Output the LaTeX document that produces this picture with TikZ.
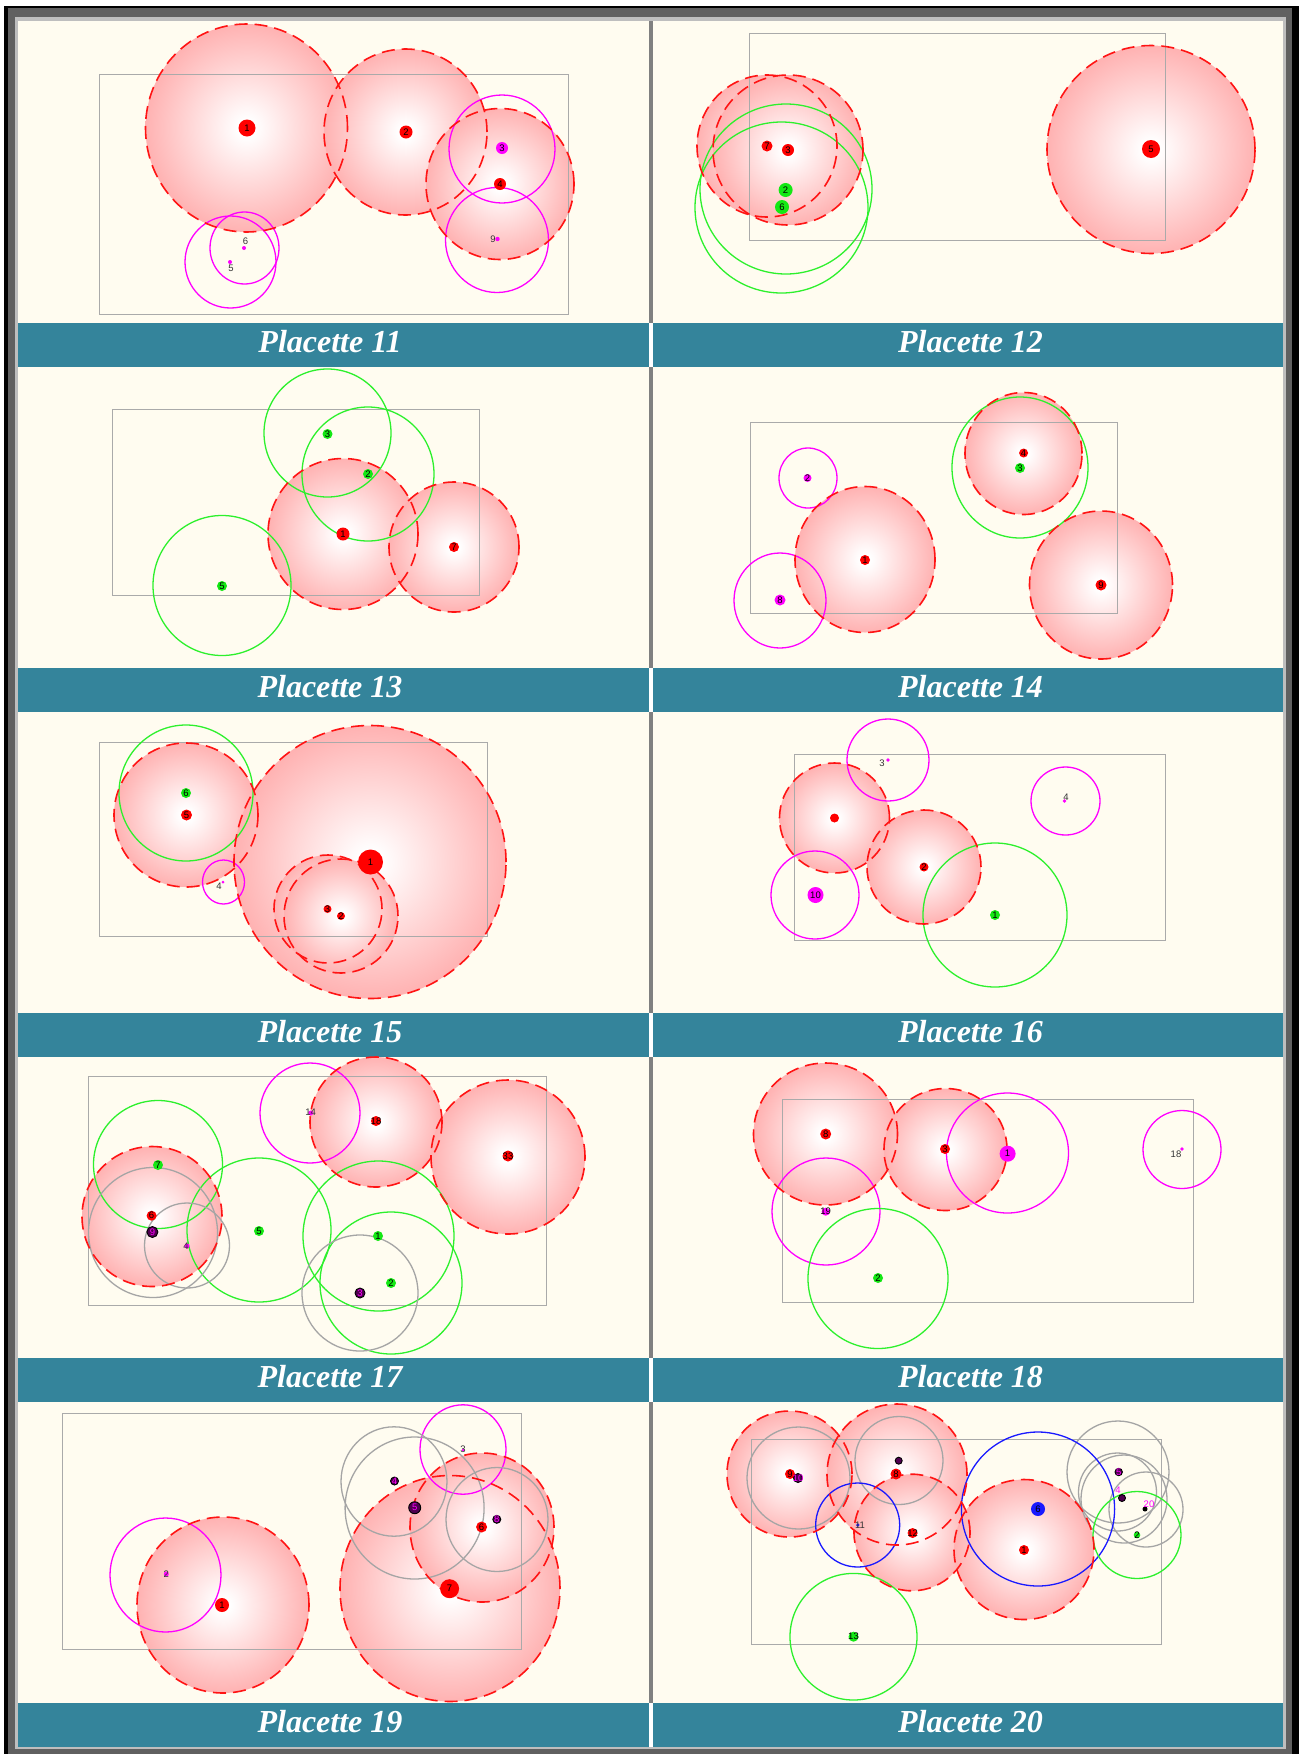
\documentclass[tikz,border=0pt]{standalone}
\usepackage{fontspec}
\setmainfont{Liberation Serif}
\setsansfont{Liberation Sans}
\definecolor{pinkedge}{RGB}{255,178,178}
\definecolor{cream}{RGB}{255,252,240}
\definecolor{tealbar}{RGB}{52,132,155}
\definecolor{framedark}{RGB}{96,96,96}
\definecolor{framelight}{RGB}{190,190,190}
\definecolor{divgray}{RGB}{128,128,128}
\definecolor{plotgray}{RGB}{170,170,170}
\definecolor{ringgray}{RGB}{165,165,165}
\definecolor{lime}{RGB}{45,240,45}
\definecolor{limedot}{RGB}{20,232,20}
\definecolor{mag}{RGB}{255,0,255}
\definecolor{blu}{RGB}{25,25,255}
\definecolor{dred}{RGB}{255,20,20}
\definecolor{darkpurple}{RGB}{80,0,80}
\pgfdeclareradialshading{pinkball}{\pgfpointorigin}{color(0bp)=(white); color(2bp)=(white); color(25bp)=(pinkedge); color(50bp)=(pinkedge)}
\tikzset{
  redline/.style={draw=dred, line width=1.6pt, dash pattern=on 13pt off 7pt},
  magring/.style={draw=mag, line width=1.3pt},
  greenring/.style={draw=lime, line width=1.3pt},
  grayring/.style={draw=ringgray, line width=1.3pt},
  bluering/.style={draw=blu, line width=1.3pt},
  plotbox/.style={draw=plotgray, line width=1pt},
  dotbase/.style={circle, inner sep=0pt, font=\sffamily\fontsize{9.5}{9.5}\selectfont},
  rdot/.style={dotbase, fill=red},
  gdot/.style={dotbase, fill=limedot},
  mdot/.style={dotbase, fill=mag},
  bdot/.style={dotbase, fill=blu},
  kdot/.style={dotbase, fill=darkpurple, draw=black, line width=0.9pt, text=mag},
  blackdot/.style={dotbase, fill=black},
  lbl/.style={inner sep=0pt, font=\sffamily\fontsize{9.5}{9.5}\selectfont, text=black!80},
  maglbl/.style={lbl, text=mag},
  titletext/.style={anchor=base, inner sep=0pt, text=white, font=\rmfamily\bfseries\itshape\fontsize{32}{32}\selectfont},
}
\newcommand\dg[1]{\makebox[0pt]{#1}}
\newcommand\RF[4]{\shade[shading=pinkball] (#1,#2) ellipse [x radius=#3pt, y radius=#4pt];}
\newcommand\RL[4]{\draw[redline] (#1,#2) ellipse [x radius=#3pt, y radius=#4pt];}
\newcommand\RG[5]{\draw[#1] (#2,#3) ellipse [x radius=#4pt, y radius=#5pt];}
\newcommand\DT[6]{\node[#1, minimum size=#5pt*2] (#2) at (#3,#4) {\dg{#6}};}
\begin{document}
\begin{tikzpicture}[x=1pt,y=-1pt]
\useasboundingbox (0,0) rectangle (1302,1754);
% frame
\fill[white] (0,0) rectangle (1302,1754);
\fill[black] (4,6) rectangle (1299,1754);
\fill[framedark] (7.6,8.3) rectangle (1292,1754);
\fill[framelight] (14.7,16.7) rectangle (1285.8,1749);
\foreach \k in {0,...,4}{
  \pgfmathsetmacro\o{345*\k}
  \fill[cream] (17.7,21+\o) rectangle (648.5,323+\o);
  \fill[cream] (653,21+\o) rectangle (1282.5,323+\o);
  \fill[divgray] (648.5,21+\o) rectangle (653,323+\o);
}
\foreach \k in {0,...,4}{
  \pgfmathsetmacro\o{345*\k}
  \fill[tealbar] (17.7,323+\o) rectangle (648.5,367+\o);
  \fill[tealbar] (653,323+\o) rectangle (1282.5,367+\o);
  \fill[white] (648.5,323+\o) rectangle (653,367+\o);
}
% titles
\node[titletext] (t11) at (330,352.5) {Placette 11};
\node[titletext] (t12) at (970.5,352.5) {Placette 12};
\node[titletext] (t13) at (330,697.5) {Placette 13};
\node[titletext] (t14) at (970.5,697.5) {Placette 14};
\node[titletext] (t15) at (330,1042.5) {Placette 15};
\node[titletext] (t16) at (970.5,1042.5) {Placette 16};
\node[titletext] (t17) at (330,1387.5) {Placette 17};
\node[titletext] (t18) at (970.5,1387.5) {Placette 18};
\node[titletext] (t19) at (330,1732.5) {Placette 19};
\node[titletext] (t20) at (970.5,1732.5) {Placette 20};

% ---------- Placette 11
\RF{246.5}{128}{101}{104} \RF{405.5}{132}{81.5}{83} \RF{500}{184}{74}{75.5}
\draw[plotbox] (99,74) rectangle (568,314);
\RG{magring}{502}{149}{53}{54} \RG{magring}{497}{240}{51.5}{52.5}
\RG{magring}{244.5}{248}{34.5}{36} \RG{magring}{230.5}{262}{45.5}{46}
\RL{246.5}{128}{101}{104} \RL{405.5}{132}{81.5}{83} \RL{500}{184}{74}{75.5}
\DT{rdot}{a1}{247}{128}{8.5}{1} \DT{rdot}{a2}{406}{132}{6.5}{2}
\DT{rdot}{a4}{500}{184}{6}{4} \DT{mdot}{a3}{502}{148}{6}{3}
\DT{mdot}{a9}{497.5}{239}{2.2}{} \node[lbl] (a9t) at (493,239) {9};
\DT{mdot}{a6}{244}{248}{2}{} \node[lbl] (a6t) at (245.5,241.5) {6};
\DT{mdot}{a5}{230}{262}{2}{} \node[lbl] (a5t) at (231,268.5) {5};

% ---------- Placette 12
\RF{767}{146}{70}{71} \RF{788}{150}{75}{75} \RF{1151}{149.5}{104}{104}
\draw[plotbox] (749,33) rectangle (1165,240);
\RG{greenring}{786}{189}{86}{85} \RG{greenring}{781.5}{207.5}{86.5}{85.5}
\RL{767}{146}{70}{71} \RL{788}{150}{75}{75} \RL{1151}{149.5}{104}{104}
\DT{rdot}{b7}{767}{146}{5.5}{7} \DT{rdot}{b3}{788}{150}{6}{3}
\DT{rdot}{b5}{1151}{149}{9}{5} \DT{gdot}{b2}{785.6}{190}{7}{2}
\DT{gdot}{b6}{782}{207}{7}{6}

% ---------- Placette 13
\RF{343}{534}{75}{75.5} \RF{454}{547}{65}{65}
\draw[plotbox] (112,409) rectangle (479,595);
\RG{greenring}{327.5}{433}{63.5}{64} \RG{greenring}{368}{474}{66}{67}
\RG{greenring}{222}{585.5}{69}{70}
\RL{343}{534}{75}{75.5} \RL{454}{547}{65}{65}
\DT{gdot}{c3}{327.5}{434}{5}{3} \DT{gdot}{c2}{368}{474}{5}{2}
\DT{rdot}{c1}{343}{534}{6.5}{1} \DT{rdot}{c7}{454}{547}{5}{7}
\DT{gdot}{c5}{222}{586}{5}{5}

% ---------- Placette 14
\RF{865}{559.5}{70}{73} \RF{1023.5}{453.5}{58.5}{61} \RF{1101}{585}{71.5}{74}
\draw[plotbox] (750.5,422) rectangle (1117,613);
\RG{magring}{808}{478}{29}{30} \RG{magring}{780}{600.5}{46}{47.5}
\RG{greenring}{1020}{467.5}{68}{70.5}
\RL{865}{559.5}{70}{73} \RL{1023.5}{453.5}{58.5}{61} \RL{1101}{585}{71.5}{74}
\DT{mdot}{d2}{807.5}{478}{4}{2} \DT{rdot}{d1}{865}{560}{5}{1}
\DT{mdot}{d8}{780}{600}{5.5}{8} \DT{rdot}{d4}{1023.6}{453}{4.5}{4}
\DT{gdot}{d3}{1020}{468}{5}{3} \DT{rdot}{d9}{1101}{585}{5.5}{9}

% ---------- Placette 15
\RF{186}{815}{72}{72} \RF{370}{862}{136}{136.5} \RF{328}{909}{54}{54} \RF{341}{916}{57}{57}
\draw[plotbox] (99,742) rectangle (487,936);
\RG{greenring}{186}{793}{67}{68} \RG{magring}{223.5}{882}{21}{22}
\RL{186}{815}{72}{72} \RL{370}{862}{136}{136.5} \RL{328}{909}{54}{54} \RL{341}{916}{57}{57}
\DT{gdot}{e6}{186}{793}{5}{6} \DT{rdot}{e5}{186.5}{815}{5.5}{5}
\DT{rdot}{e1}{370.5}{862}{12.5}{1} \DT{rdot}{e3}{327.5}{909}{4}{3}
\DT{rdot}{e2}{341}{916}{4}{2}
\DT{mdot}{e4}{223}{882}{1.5}{} \node[lbl] (e4t) at (219,886) {4};

% ---------- Placette 16
\RF{834.5}{818}{55}{55} \RF{924}{867}{57}{57}
\draw[plotbox] (794,754) rectangle (1165,940);
\RG{magring}{888}{760}{41}{41} \RG{magring}{815}{895}{44}{44} \RG{magring}{1065.5}{801}{34.5}{34}
\RG{greenring}{995}{915}{72}{72}
\RL{834.5}{818}{55}{55} \RL{924}{867}{57}{57}
\DT{rdot}{f6}{834.5}{818}{4.5}{} \DT{rdot}{f2}{924}{867}{4.5}{2}
\DT{mdot}{f10}{815.5}{895}{8}{10} \DT{gdot}{f1}{995}{915}{5}{1}
\DT{mdot}{f3}{888}{760}{1.8}{} \node[lbl] (f3t) at (882,763) {3};
\DT{mdot}{f4}{1064.5}{801}{1.8}{} \node[lbl] (f4t) at (1066,797) {4};

% ---------- Placette 17
\RF{376}{1122}{66}{65} \RF{508}{1157}{77}{77} \RF{152}{1216.5}{70}{70}
\draw[plotbox] (88,1076) rectangle (546.5,1305);
\RG{magring}{310}{1113}{50}{50}
\RG{greenring}{158}{1164.5}{64.5}{64} \RG{greenring}{259}{1230}{72}{72}
\RG{greenring}{378.5}{1236}{75.5}{75} \RG{greenring}{391}{1283}{71}{71}
\RG{grayring}{153}{1232.5}{64.5}{65} \RG{grayring}{187}{1245.5}{42.5}{42.5}
\RG{grayring}{360}{1293}{58}{58}
\RL{376}{1122}{66}{65} \RL{508}{1157}{77}{77} \RL{152}{1216.5}{70}{70}
\DT{mdot}{g14}{310.7}{1113}{2.5}{} \node[lbl] (g14t) at (310.7,1112) {14};
\DT{rdot}{g18}{376}{1121}{5}{18} \DT{rdot}{g33}{508}{1156}{5.5}{33}
\DT{rdot}{g6}{151.6}{1215.7}{5}{6} \DT{gdot}{g7}{158}{1165}{5}{7}
\DT{kdot}{g9}{152.4}{1232}{5.5}{9}
\DT{mdot}{g4}{187}{1246}{2.5}{} \node[lbl] (g4t) at (186,1246) {4};
\DT{gdot}{g5}{259}{1231}{5}{5} \DT{gdot}{g1}{378}{1236}{5}{1}
\DT{gdot}{g2}{391}{1283}{5}{2} \DT{kdot}{g3}{360}{1293}{5}{3}

% ---------- Placette 18
\RF{825.5}{1134}{72}{71} \RF{945.5}{1149.5}{61.5}{61}
\draw[plotbox] (782.6,1099) rectangle (1193.6,1302);
\RG{magring}{1007.5}{1153}{61}{60} \RG{magring}{826}{1211.5}{54}{53.5}
\RG{magring}{1182}{1149.5}{39}{39} \RG{greenring}{878}{1278.5}{70}{70}
\RL{825.5}{1134}{72}{71} \RL{945.5}{1149.5}{61.5}{61}
\DT{rdot}{h8}{825.7}{1134}{5.5}{8} \DT{rdot}{h3}{945}{1149}{5}{3}
\DT{mdot}{h1}{1007.6}{1153.7}{8}{1} \DT{mdot}{h19}{825.7}{1211.7}{4}{19}
\DT{gdot}{h2}{878}{1278}{5}{2}
\DT{mdot}{h18}{1182}{1149}{1.8}{} \node[lbl] (h18t) at (1176,1154) {18};

% ---------- Placette 19
\RF{223}{1605}{86}{88} \RF{450}{1588.5}{110}{113} \RF{482}{1527.5}{72}{74.5}
\draw[plotbox] (62,1413) rectangle (521,1649);
\RG{magring}{165.5}{1575}{55.5}{57} \RG{magring}{463}{1449.5}{43}{44.7}
\RG{grayring}{394}{1481.5}{53}{54.7} \RG{grayring}{414.6}{1508}{69.5}{71}
\RG{grayring}{497}{1519.5}{51}{52}
\RL{223}{1605}{86}{88} \RL{450}{1588.5}{110}{113} \RL{482}{1527.5}{72}{74.5}
\DT{mdot}{i2}{166.3}{1574}{2.5}{} \node[lbl] (i2t) at (166.3,1574) {2};
\DT{rdot}{i1}{222}{1605}{7}{1} \DT{rdot}{i7}{449.6}{1588.7}{9.5}{7}
\DT{rdot}{i6}{481.6}{1527}{5.5}{6} \DT{kdot}{i4}{394.5}{1481}{4}{4}
\DT{kdot}{i5}{414.7}{1507.7}{6}{5} \DT{kdot}{i8}{496.8}{1519.3}{4}{8}
\DT{mdot}{i3}{463}{1450}{1.5}{} \node[lbl] (i3t) at (463,1449) {3};

% ---------- Placette 20
\RF{789.5}{1474}{62.5}{63} \RF{897}{1474.5}{70}{70.5} \RF{912}{1532.5}{58}{58.3} \RF{1024}{1549.5}{70}{70}
\draw[plotbox] (751,1439) rectangle (1161,1644);
\RG{grayring}{798.5}{1478}{51.5}{51} \RG{grayring}{899}{1460.5}{44}{44}
\RG{grayring}{1118}{1472}{51}{51} \RG{grayring}{1117.5}{1492}{39}{39}
\RG{grayring}{1124}{1499}{43}{44} \RG{grayring}{1146}{1509.5}{37}{37.5}
\RG{bluering}{857.7}{1525}{42}{42} \RG{bluering}{1038}{1509}{76.6}{77}
\RG{greenring}{853.5}{1636.7}{63.5}{63.3} \RG{greenring}{1137}{1535}{44}{43.5}
\RL{789.5}{1474}{62.5}{63} \RL{897}{1474.5}{70}{70.5} \RL{912}{1532.5}{58}{58.3} \RL{1024}{1549.5}{70}{70}
\DT{rdot}{j9}{790}{1474}{5}{9} \DT{kdot}{j10}{798}{1478}{4.5}{10}
\DT{rdot}{j8}{896}{1474}{5.5}{8} \DT{kdot}{j7}{898.7}{1460.7}{3.5}{}
\DT{rdot}{j12}{912.6}{1533}{5}{12}
\DT{bdot}{j11}{857.8}{1525}{1.8}{} \node[lbl] (j11t) at (860,1525) {11};
\DT{rdot}{j1}{1024}{1550}{5}{1} \DT{bdot}{j6}{1038}{1509}{7}{6}
\DT{gdot}{j13}{853.5}{1636.7}{5}{13}
\DT{kdot}{j5}{1118.7}{1472}{3.7}{5}
\node[maglbl] (j4t) at (1118,1490) {4};
\DT{kdot}{j3}{1122}{1498}{3.5}{}
\DT{blackdot}{j20}{1145}{1509}{2.5}{} \node[maglbl] (j20t) at (1149,1504) {20};
\DT{gdot}{j2}{1137}{1535}{3}{2}
\end{tikzpicture}
\end{document}
